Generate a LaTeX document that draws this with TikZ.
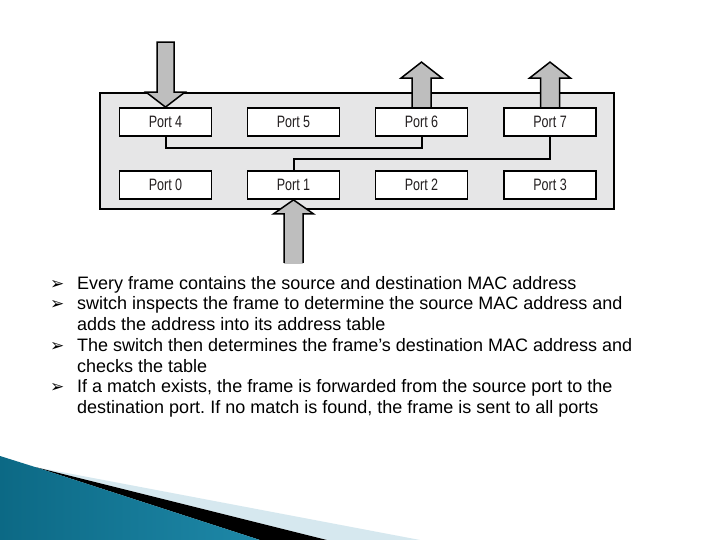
\documentclass[tikz,border=0pt]{standalone}
\usepackage{fontspec}
\setmainfont{Liberation Sans}
\newfontfamily\portfont[FakeStretch=0.76]{Liberation Sans}
\newfontfamily\dejavu{DejaVu Sans}
\definecolor{panelgray}{HTML}{E6E6E7}
\definecolor{arrowgray}{HTML}{BEBEBE}
\definecolor{porttext}{HTML}{231F20}
\definecolor{tealdark}{HTML}{0C6985}
\definecolor{teallight}{HTML}{4AB3D3}
\definecolor{tealmid}{HTML}{1E88A8}
\definecolor{paleblue}{HTML}{D6E8EF}
\frenchspacing
\tikzset{
  portbox/.style={draw=black, line width=1.8pt, fill=white, minimum width=92pt, minimum height=28pt, inner sep=0pt, font=\portfont\fontsize{16.5}{16.5}\selectfont, text=porttext},
  wire/.style={draw=black, line width=2pt},
  blockarrow/.style={fill=arrowgray, draw=black, line width=1.5pt, line join=miter},
  bullettext/.style={anchor=base west, inner sep=0pt, font=\fontsize{18}{20.75}\selectfont, text=black},
  bulletmark/.style={anchor=base west, inner sep=0pt, font=\dejavu\fontsize{17}{17}\selectfont, text=black}
}
\begin{document}
\begin{tikzpicture}[x=1pt,y=-1pt]
\useasboundingbox (0,0) rectangle (720,540);
\fill[white] (0,0) rectangle (720,540);

% switch panel
\draw[fill=panelgray, draw=black, line width=1.5pt] (100,93) rectangle (614,209);

% ports
\node[portbox] (p4) at (165.5,122) {Port 4};
\node[portbox] (p5) at (293.5,122) {Port 5};
\node[portbox] (p6) at (421.5,122) {Port 6};
\node[portbox] (p7) at (550,122) {Port 7};
\node[portbox] (p0) at (165.5,185) {Port 0};
\node[portbox] (p1) at (293.5,185) {Port 1};
\node[portbox] (p2) at (421.5,185) {Port 2};
\node[portbox] (p3) at (550,185) {Port 3};

% internal connections
\draw[wire] (p4.south) -- ++(0,11) -| (p6.south);
\draw[wire] (p7.south) -- ++(0,22) -| (p1.north);

% incoming arrow to Port 4
\draw[blockarrow] (p4.north) -- ++(-19.5,-15) -- ++(11,0) -- ++(0,-50) -- ++(17,0) -- ++(0,50) -- ++(11,0) -- cycle;

% outgoing arrows from Port 6 and Port 7
\draw[blockarrow] ([xshift=-9.5pt]p6.north) -- ++(0,-29) -- ++(-11,0) -- ++(20.5,-16) -- ++(20.5,16) -- ++(-11,0) -- ++(0,29);
\draw[blockarrow] ([xshift=-9.5pt]p7.north) -- ++(0,-29) -- ++(-11,0) -- ++(20.5,-16) -- ++(20.5,16) -- ++(-11,0) -- ++(0,29);
\node[portbox] at (p6) {Port 6};
\node[portbox] at (p7) {Port 7};

% incoming arrow to Port 1
\fill[arrowgray] (p1.south) -- ++(-20,14) -- ++(10.5,0) -- ++(0,50) -- ++(19,0) -- ++(0,-50) -- ++(10.5,0) -- cycle;
\draw[blockarrow, fill=none] ([xshift=-9.5pt,yshift=-63pt]p1.south) -- ++(0,-49) -- ++(-10.5,0) -- (p1.south) -- ++(20,14) -- ++(-10.5,0) -- ++(0,49);

% bullet list
\node[bulletmark] (m1) at (50,289) {➢};
\node[bullettext] (t1) at (77,289) {Every frame contains the source and destination MAC address};
\node[bulletmark] (m2) at (50,309.75) {➢};
\node[bullettext] (t2a) at (77,309.75) {switch inspects the frame to determine the source MAC address and};
\node[bullettext] (t2b) at (77,330.5) {adds the address into its address table};
\node[bulletmark] (m3) at (50,351.25) {➢};
\node[bullettext] (t3a) at (77,351.25) {The switch then determines the frame’s destination MAC address and};
\node[bullettext] (t3b) at (77,372) {checks the table};
\node[bulletmark] (m4) at (50,392.75) {➢};
\node[bullettext] (t4a) at (77,392.75) {If a match exists, the frame is forwarded from the source port to the};
\node[bullettext] (t4b) at (77,413.5) {destination port. If no match is found, the frame is sent to all ports};

% corner decoration
\fill[paleblue] (35,467) -- (420,540) -- (327,540) -- cycle;
\fill[black] (35,467) -- (327,540) -- (260,540) -- cycle;
\shade[left color=tealdark, middle color=teallight, right color=tealmid] (0,456) -- (35,467) -- (260,540) -- (0,540) -- cycle;
\end{tikzpicture}
\end{document}
